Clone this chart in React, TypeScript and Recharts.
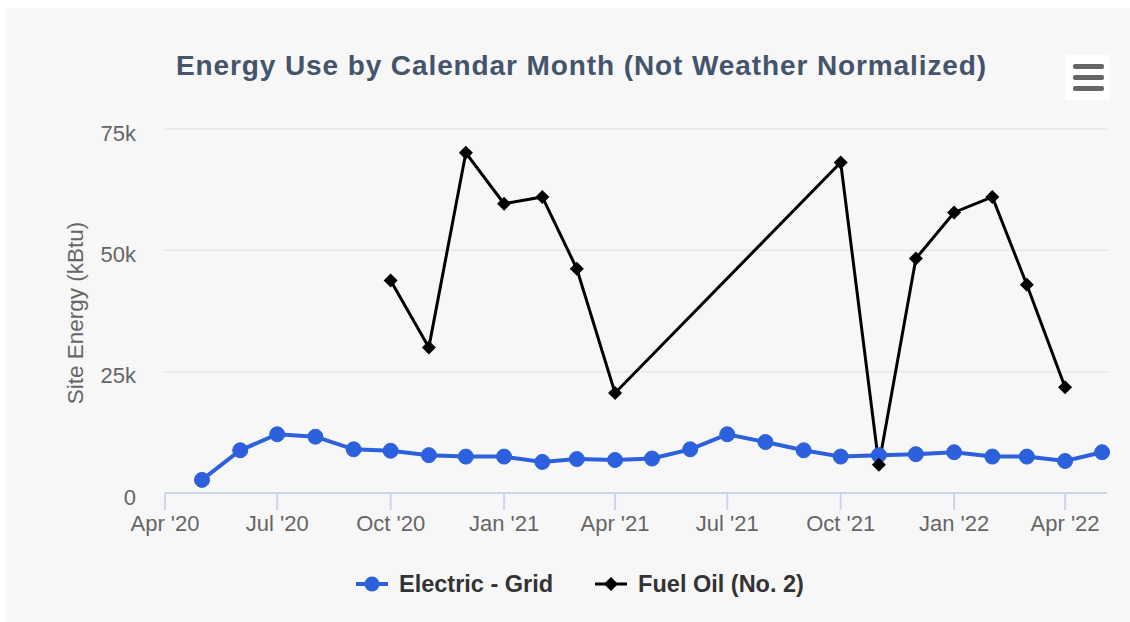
import React from 'react';
import { LineChart, Line, XAxis, YAxis, CartesianGrid, Legend } from 'recharts';

// monthly readings (first of month)
const months = [
  '2020-05', '2020-06', '2020-07', '2020-08', '2020-09', '2020-10', '2020-11', '2020-12',
  '2021-01', '2021-02', '2021-03', '2021-04', '2021-05', '2021-06', '2021-07', '2021-08',
  '2021-09', '2021-10', '2021-11', '2021-12', '2022-01', '2022-02', '2022-03', '2022-04', '2022-05',
];
const electricGrid = [
  2700, 8800, 12100, 11600, 9000, 8700, 7800, 7500,
  7500, 6400, 7000, 6800, 7100, 9000, 12100, 10500,
  8800, 7500, 7800, 8000, 8400, 7500, 7500, 6600, 8400,
];
const fuelOil = [
  null, null, null, null, null, 43800, 30000, 70100,
  59600, 61000, 46200, 20600, null, null, null, null,
  null, 68100, 5800, 48300, 57800, 61000, 42900, 21800, null,
];
const xTickMonths = ['2020-04', '2020-07', '2020-10', '2021-01', '2021-04', '2021-07', '2021-10', '2022-01', '2022-04'];
const xDomain = ['2020-04-01', '2022-05-05'];
const yTicks = [0, 25000, 50000, 75000];
const seriesNames = ['Electric - Grid', 'Fuel Oil (No. 2)'];

const BLUE = '#2d60dd';
const FONT = "'Liberation Sans', Arial, Helvetica, sans-serif";
const MONTH_ABBR = ['Jan', 'Feb', 'Mar', 'Apr', 'May', 'Jun', 'Jul', 'Aug', 'Sep', 'Oct', 'Nov', 'Dec'];

const toTime = (s: string) => {
  const [y, m, d] = s.split('-').map(Number);
  return Date.UTC(y, m - 1, d || 1);
};
const fmtMonth = (t: number) => {
  const d = new Date(t);
  return `${MONTH_ABBR[d.getUTCMonth()]} '${String(d.getUTCFullYear()).slice(2)}`;
};
const fmtK = (v: number) => (v === 0 ? '0' : `${v / 1000}k`);

const data = months.map((m, i) => ({ t: toTime(m), electric: electricGrid[i], fuel: fuelOil[i] }));

const DiamondDot = (props: any) => {
  const { cx, cy, index } = props;
  if (cx == null || cy == null) return <g key={`fd-${index}`} />;
  const r = 7;
  return (
    <path
      key={`fd-${index}`}
      d={`M${cx},${cy - r}L${cx + r},${cy}L${cx},${cy + r}L${cx - r},${cy}Z`}
      fill="#000"
    />
  );
};

const YTick = (props: any) => {
  const { x, y, payload } = props;
  return (
    <text x={x} y={y + 4} dy="0.355em" textAnchor="end" fill="#666" fontSize={22} fontFamily={FONT}>
      {fmtK(payload.value)}
    </text>
  );
};

const YTitle = (props: any) => {
  const { viewBox } = props;
  const cx = viewBox.x + 10;
  const cy = viewBox.y + viewBox.height / 2 + 2;
  return (
    <text
      x={cx}
      y={cy}
      transform={`rotate(-90 ${cx} ${cy})`}
      textAnchor="middle"
      dominantBaseline="central"
      fill="#666"
      fontSize={22.5}
      fontFamily={FONT}
    >
      Site Energy (kBtu)
    </text>
  );
};

const LegendContent = () => (
  <div style={{ display: 'flex', alignItems: 'center', marginLeft: 356, height: 30, fontFamily: FONT }}>
    <svg width={32} height={20} style={{ marginRight: 11 }}>
      <line x1={0} y1={10} x2={32} y2={10} stroke={BLUE} strokeWidth={4} />
      <circle cx={16} cy={10} r={7.5} fill={BLUE} />
    </svg>
    <span style={{ fontSize: 23.5, fontWeight: 'bold', color: '#333', marginRight: 42 }}>{seriesNames[0]}</span>
    <svg width={32} height={20} style={{ marginRight: 11 }}>
      <line x1={0} y1={10} x2={32} y2={10} stroke="#000" strokeWidth={3} />
      <path d="M16,3L23,10L16,17L9,10Z" fill="#000" />
    </svg>
    <span style={{ fontSize: 23.5, fontWeight: 'bold', color: '#333' }}>{seriesNames[1]}</span>
  </div>
);

const App: React.FC = () => {
  return (
    <div style={{ position: 'absolute', left: 0, top: 0, width: 1130, height: 622, background: '#fff', overflow: 'hidden' }}>
      <div style={{ position: 'absolute', left: 6, top: 8, width: 1124, height: 614, background: '#f7f7f7' }} />
      <div
        style={{
          position: 'absolute',
          left: 0,
          top: 52,
          width: 1163,
          textAlign: 'center',
          fontFamily: FONT,
          fontSize: 28,
          lineHeight: '28px',
          fontWeight: 'bold',
          letterSpacing: 0.9,
          color: '#44556b',
          whiteSpace: 'nowrap',
        }}
      >
        Energy Use by Calendar Month (Not Weather Normalized)
      </div>
      {/* export menu button */}
      <div style={{ position: 'absolute', left: 1065, top: 55, width: 45, height: 45, background: '#fff', borderRadius: 3 }}>
        {[9, 20, 31].map((t) => (
          <div key={t} style={{ position: 'absolute', left: 8, top: t, width: 31, height: 5, borderRadius: 2, background: '#666' }} />
        ))}
      </div>
      <div style={{ position: 'absolute', left: 0, top: 0 }}>
        <LineChart width={1130} height={622} data={data} margin={{ top: 129, right: 23, bottom: 69, left: 65 }}>
          <CartesianGrid vertical={false} stroke="#e6e6e6" strokeWidth={1.5} />
          <XAxis
            dataKey="t"
            type="number"
            domain={[toTime(xDomain[0]), toTime(xDomain[1])]}
            ticks={xTickMonths.map(toTime)}
            tickFormatter={fmtMonth}
            interval={0}
            height={60}
            tickSize={17}
            tickMargin={5}
            axisLine={{ stroke: '#ccd6eb', strokeWidth: 2 }}
            tickLine={{ stroke: '#ccd6eb', strokeWidth: 2 }}
            tick={{ fill: '#666', fontSize: 22, fontFamily: FONT }}
          />
          <YAxis
            width={100}
            domain={[0, 75000]}
            ticks={yTicks}
            tickSize={0}
            tickMargin={29}
            axisLine={false}
            tickLine={false}
            tick={<YTick />}
            label={<YTitle />}
          />
          <Legend
            layout="horizontal"
            verticalAlign="middle"
            align="center"
            content={<LegendContent />}
            wrapperStyle={{ top: 569, left: 0, width: 1130, height: 30 }}
          />
          <Line
            type="linear"
            dataKey="electric"
            name={seriesNames[0]}
            stroke={BLUE}
            strokeWidth={4}
            dot={{ r: 7.5, fill: BLUE, stroke: BLUE, strokeWidth: 1 }}
            isAnimationActive={false}
          />
          <Line
            type="linear"
            dataKey="fuel"
            name={seriesNames[1]}
            stroke="#000"
            strokeWidth={3}
            connectNulls
            dot={<DiamondDot />}
            isAnimationActive={false}
          />
        </LineChart>
      </div>
    </div>
  );
};

export default App;
